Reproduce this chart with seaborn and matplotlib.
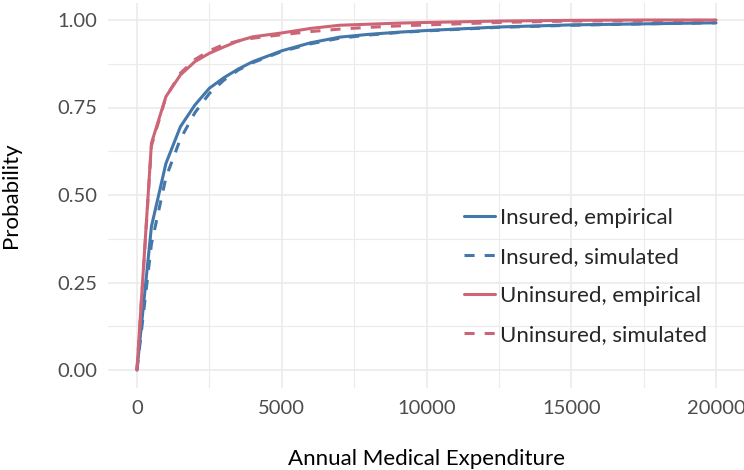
import numpy as np
import pandas as pd
import seaborn as sns
import matplotlib
matplotlib.use("Agg")
import matplotlib.pyplot as plt
from matplotlib.ticker import MultipleLocator

# ---- data ----
expenditure = [0, 500, 1000, 1500, 2000, 2500, 3000, 3500, 4000, 5000,
               6000, 7000, 8000, 9000, 10000, 12500, 15000, 17500, 20000]
insured_empirical = [0, 0.41, 0.59, 0.695, 0.757, 0.805, 0.835, 0.860, 0.881, 0.912,
                     0.935, 0.951, 0.959, 0.965, 0.970, 0.980, 0.986, 0.989, 0.992]
insured_simulated = [0, 0.36, 0.55, 0.660, 0.735, 0.790, 0.828, 0.857, 0.878, 0.910,
                     0.932, 0.948, 0.957, 0.964, 0.969, 0.979, 0.985, 0.989, 0.992]
uninsured_empirical = [0, 0.648, 0.781, 0.843, 0.881, 0.905, 0.923, 0.940, 0.952, 0.963,
                       0.976, 0.985, 0.988, 0.991, 0.993, 0.997, 0.999, 1.000, 1.000]
uninsured_simulated = [0, 0.640, 0.780, 0.848, 0.887, 0.912, 0.930, 0.940, 0.948, 0.958,
                       0.967, 0.974, 0.979, 0.983, 0.986, 0.993, 0.997, 0.998, 0.999]
series_names = ["Insured, empirical", "Insured, simulated",
                "Uninsured, empirical", "Uninsured, simulated"]
x_ticks = [0, 5000, 10000, 15000, 20000]
y_ticks = [0.00, 0.25, 0.50, 0.75, 1.00]
y_tick_labels = ["0.00", "0.25", "0.50", "0.75", "1.00"]

frames = []
for name, vals in zip(series_names, [insured_empirical, insured_simulated,
                                     uninsured_empirical, uninsured_simulated]):
    frames.append(pd.DataFrame({"x": expenditure, "y": vals, "series": name}))
df = pd.concat(frames, ignore_index=True)

# ---- style ----
sns.set_theme(style="white")
plt.rcParams["font.family"] = ["Lato", "DejaVu Sans"]

blue = "#4477AA"
red = "#CC6677"
palette = {series_names[0]: blue, series_names[1]: blue,
           series_names[2]: red, series_names[3]: red}
dash_pat = (3.3, 3.3)
dashes = {series_names[0]: "", series_names[1]: dash_pat,
          series_names[2]: "", series_names[3]: dash_pat}

fig = plt.figure(figsize=(7.44, 4.70), dpi=100)
ax = fig.add_axes([108 / 744, 1 - 387.5 / 470, (745 - 108) / 744, 385 / 470])

sns.lineplot(data=df, x="x", y="y", hue="series", style="series",
             palette=palette, dashes=dashes, linewidth=2.2, ax=ax,
             hue_order=series_names, style_order=series_names)

ax.set_xlim(-1000, 21000)
ax.set_ylim(-0.05, 1.05)
ax.set_xticks(x_ticks)
ax.set_xticklabels([str(t) for t in x_ticks])
ax.set_yticks(y_ticks)
ax.set_yticklabels(y_tick_labels)
ax.xaxis.set_minor_locator(MultipleLocator(2500))
ax.yaxis.set_minor_locator(MultipleLocator(0.125))
ax.grid(which="major", color="#EBEBEB", linewidth=1.2)
ax.grid(which="minor", color="#EBEBEB", linewidth=0.8)
ax.set_axisbelow(True)
for s in ax.spines.values():
    s.set_visible(False)
ax.tick_params(axis="both", which="both", length=0, labelsize=14.5,
               labelcolor="#4D4D4D")
ax.tick_params(axis="x", pad=9)
ax.tick_params(axis="y", pad=8)
ax.set_xlabel("Annual Medical Expenditure", fontsize=16, color="black", labelpad=23)
ax.set_ylabel("Probability", fontsize=16, color="black", labelpad=26)

leg = ax.legend(loc="center left", bbox_to_anchor=(464 / 744, 1 - 276.5 / 470),
                bbox_transform=fig.transFigure, frameon=False, fontsize=16,
                handlelength=1.4, handletextpad=0.22, labelspacing=0.86,
                borderpad=0, borderaxespad=0)
for line in leg.get_lines():
    line.set_linewidth(2.2)

fig.savefig("out.png", dpi=100)
